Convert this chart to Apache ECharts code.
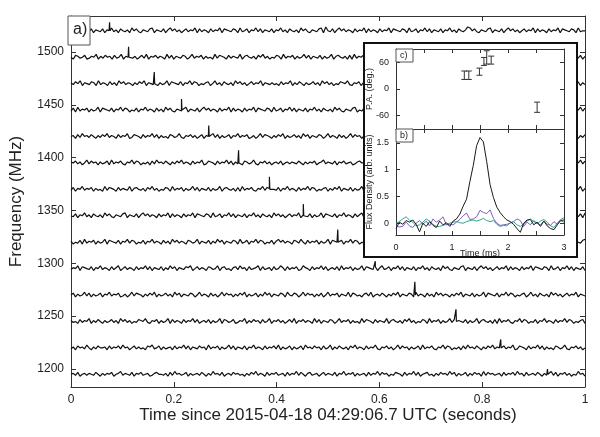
<!DOCTYPE html>
<html><head><meta charset="utf-8">
<script src="https://cdn.jsdelivr.net/npm/echarts@6/dist/echarts.min.js"></script>
<style>html,body{margin:0;padding:0;background:#fff}#c{width:600px;height:437px}</style>
</head><body><div id="c"></div>
<script>
// ---- main panel a) ----
const timeTicks = [0, 0.2, 0.4, 0.6, 0.8, 1];
const freqTicks = [1200, 1250, 1300, 1350, 1400, 1450, 1500];
const channelFreqs = [1195, 1220, 1245, 1270, 1295, 1320, 1345, 1370, 1395, 1420, 1445, 1470, 1495, 1520];
const pulseTimes = [0.927, 0.836, 0.749, 0.669, 0.592, 0.519, 0.452, 0.386, 0.326, 0.268, 0.215, 0.162, 0.112, 0.075];
const pulseHeights = [5, 8, 11.5, 12.5, 7, 12, 11, 12, 12, 10.5, 10.5, 11, 10, 8];
const noiseUnit = 0.9; // MHz per digit step, digit 4 = channel baseline
const noiseRows = [
"4536245354364253546245735436254634523564435263745346253453642537453624536453425364735426354634526354736425634524635436254735462534526354736452436542635473624563425364537462534625364527364534526354637452634536425347362546352437452",
"3526453742536445263546374524635342657346253452635473625436452735462534736254362547354263546372534625346274536452634725364352647354263547325463524736452534627354632547365243526374536425364735426354723654263547362534265347325463524",
"5342635472536425346352746352436547325462534726354263547362453625347265346235472536452634725463524637254635427362543652473546253427365426354372564352647352436527354625347362543625347256435262735463254736524362547354263547365243562",
"4625347362534625473546235247365425364725346352746254365247354263524736452536472534625374625436527436524736452536247354625437265342563724536425364725436527354263527463542536472543625347265436254736524356247352643527463524635472543",
"3547265436254735426357246354263547362543625374625436572463542653472563425637452634572634526347526354623754263547362453627354625347265436257346254736254362547352643527463254367254362574635246354726354263547265436527346254736254362",
"5243627354625347265436254736524362547354263527463542653472543625374625436527346254736524362574635426537426354625347265436254736524362547354263527463254367254362574635426354726354263547265436527346254736254362547352643527463254367",
"4362547352643527463254367254362574635426354726354263547265436527346254736254362547352643527463524635472543625347265436254735426357246354263547362543625374625436572463542653472563425637452634572634526347526354623754263547362453627",
"3625473546253427365426354372564352647352436527354625347362543625347256435262735463254736524362547354263547365243562536472543625347265436254736524356247352643527463524635472543462534736254362547354263546372534625346274536452634725",
"5463524736452534627354632547365243526374536425364735426354723654263547362534265347325463524536245354364253546245735436254634523564435263745346253453642537453624536453425364735426354634526354736425634524635436254735462534526354736",
"4526374536425364735426354723654263547362534265347325463524625347362534625473546235247365425364725346352746254365247354263524736452536472534625374625436527436524736452536247354625437265342563724536425364725436527354263527463542536",
"3627354625347265436254736524362547354263527463254367254362574635426354726354263547265436527346254736254362547352643527463254367243627354625347265436254736524362547354263527463254367254362574635426354726354263547265436527346254736",
"5364725436527354263527463542536472543625347265436254736524356247352643527463524635472543534263547253642534635274635243654732546253472635426354726354263547362453625347265346235472536452634725463524637254635427362543652473546253",
"4265346235472536452634725463524637254635427362543652473546253427365426354372564352647352436527354625347362543625347256435262735463254736524362547354263547365243562536472543625347265436254736524356247352643527463524635472543625",
"3546254736254362547352643527463254367254362574635246354726354263547265436527346254736254362547352643527463254367284362574635426354726354263547265436527346254736254362547352643587463254367254362574635246354726354263547265436527344"
];
// ---- inset panel b) : pulse profile ----
const profileTimes = [0,0.06,0.12,0.18,0.24,0.30,0.36,0.42,0.48,0.54,0.60,0.66,0.72,0.78,0.84,0.90,0.96,1.02,1.08,1.14,1.20,1.26,1.32,1.38,1.44,1.50,1.56,1.62,1.68,1.74,1.80,1.86,1.92,1.98,2.04,2.10,2.16,2.22,2.28,2.34,2.40,2.46,2.52,2.58,2.64,2.70,2.76,2.82,2.88,2.94,3.00];
const totalFlux = [-0.1,0.02,-0.02,0.05,0.02,0.06,-0.02,-0.16,0.0,-0.06,0.03,-0.04,-0.08,0.04,-0.03,0.01,-0.06,0.04,0.08,0.17,0.32,0.45,0.78,1.08,1.45,1.6,1.52,1.15,0.72,0.48,0.3,0.2,0.12,0.06,0.03,-0.02,-0.1,-0.17,0.0,0.06,0.07,-0.03,0.02,-0.06,0.04,-0.05,-0.1,-0.12,-0.03,0.05,0.06];
const linearFlux = [-0.05,-0.07,-0.06,0.02,-0.05,-0.08,0.0,0.05,-0.02,0.04,-0.05,0.08,0.02,0.06,0.12,-0.03,-0.02,-0.03,0.02,0.07,0.14,0.19,0.07,0.08,0.12,0.24,0.2,0.18,0.25,0.09,0.0,-0.04,-0.03,-0.02,0.0,0.03,0.08,0.05,-0.06,0.02,-0.03,0.05,0.0,-0.03,0.04,-0.02,-0.04,0.03,-0.02,0.05,0.02];
const circularFlux = [0.0,0.03,0.08,0.12,0.06,0.02,-0.05,-0.03,0.02,0.08,0.04,-0.02,-0.06,-0.06,-0.04,-0.02,0.0,0.02,0.03,0.01,0.0,0.03,0.05,0.06,0.04,0.06,0.09,0.05,0.03,0.05,-0.02,-0.06,-0.04,-0.05,0.01,0.03,-0.03,-0.06,-0.02,0.04,0.08,0.03,-0.01,0.04,0.07,0.02,-0.05,-0.08,0.0,0.07,0.1];
// ---- inset panel c) : position angle ----
const paTimes = [1.22, 1.30, 1.49, 1.57, 1.62, 1.70, 2.52];
const paValues = [31, 31, 39, 62, 71, 65, -41];
const paErrors = [9.5, 9.5, 8, 9, 15, 9, 11.5];

const FONT = 'Liberation Sans, Arial, Helvetica, sans-serif';
const TXT = '#222';

const traceSeries = channelFreqs.map((f, k) => {
  const digits = noiseRows[k].split('');
  const n = digits.length;
  const pts = digits.map((d, i) => [i / (n - 1), f + (Number(d) - 4) * noiseUnit]);
  const t = pulseTimes[k];
  pts.push([t - 0.0008, f], [t, f + pulseHeights[k]], [t + 0.0008, f]);
  pts.sort((a, b) => a[0] - b[0]);
  return {
    type: 'line', xAxisIndex: 0, yAxisIndex: 0, data: pts, showSymbol: false,
    lineStyle: { color: '#111', width: 1.2 }, z: 2, silent: true
  };
});

function profile(vals, color) {
  return {
    type: 'line', xAxisIndex: 4, yAxisIndex: 4, z: 12, showSymbol: false, silent: true,
    data: profileTimes.map((t, i) => [t, vals[i]]),
    lineStyle: { color: color, width: 1 }
  };
}

const tickStyle = { inside: true, length: 5, lineStyle: { color: '#333' } };
const smallTick = { inside: true, length: 4, lineStyle: { color: '#333' } };
const lineStyle = { show: true, onZero: false, lineStyle: { color: '#333', width: 1 } };
const plain = v => String(v);
const msTicks = [0, 0.5, 1, 1.5, 2, 2.5, 3];

const option = {
  animation: false,
  backgroundColor: '#fff',
  textStyle: { fontFamily: FONT },
  grid: [
    { left: 68, right: 15, top: 16, bottom: 50 },
    { left: 396, top: 49, width: 168, height: 80, z: 11 },
    { left: 396, top: 129, width: 168, height: 106, z: 11 }
  ],
  xAxis: [
    { type: 'value', gridIndex: 0, min: 0, max: 1, position: 'bottom',
      axisLine: lineStyle, axisTick: Object.assign({ customValues: timeTicks }, tickStyle),
      splitLine: { show: false },
      axisLabel: { customValues: timeTicks, formatter: plain, margin: 7, fontSize: 12, color: TXT, fontFamily: FONT },
      name: 'Time since 2015-04-18 04:29:06.7 UTC (seconds)', nameLocation: 'middle', nameGap: 20, nameMoveOverlap: false,
      nameTextStyle: { fontSize: 17, color: TXT, fontFamily: FONT } },
    { type: 'value', gridIndex: 0, min: 0, max: 1, position: 'top',
      axisLine: lineStyle, axisTick: Object.assign({ customValues: timeTicks }, tickStyle),
      splitLine: { show: false }, axisLabel: { show: false } },
    { type: 'value', gridIndex: 1, min: 0, max: 3, position: 'bottom', z: 11,
      axisLine: lineStyle, axisTick: Object.assign({ customValues: msTicks }, smallTick),
      splitLine: { show: false }, axisLabel: { show: false } },
    { type: 'value', gridIndex: 1, min: 0, max: 3, position: 'top', z: 11,
      axisLine: lineStyle, axisTick: Object.assign({ customValues: msTicks }, smallTick),
      splitLine: { show: false }, axisLabel: { show: false } },
    { type: 'value', gridIndex: 2, min: 0, max: 3, position: 'bottom', z: 11,
      axisLine: lineStyle, axisTick: Object.assign({ customValues: msTicks }, smallTick),
      splitLine: { show: false },
      axisLabel: { customValues: [0,1,2,3], formatter: plain, margin: 8, fontSize: 9, color: TXT, fontFamily: FONT },
      name: 'Time (ms)', nameLocation: 'middle', nameGap: 14, nameMoveOverlap: false,
      nameTextStyle: { fontSize: 9, color: TXT, fontFamily: FONT } },
    { type: 'value', gridIndex: 2, min: 0, max: 3, position: 'top', z: 11,
      axisLine: lineStyle, axisTick: Object.assign({ customValues: msTicks }, smallTick),
      splitLine: { show: false }, axisLabel: { show: false } }
  ],
  yAxis: [
    { type: 'value', gridIndex: 0, min: 1183, max: 1534, position: 'left',
      axisLine: lineStyle, axisTick: Object.assign({ customValues: freqTicks }, tickStyle),
      splitLine: { show: false },
      axisLabel: { customValues: freqTicks, formatter: plain, margin: 7, fontSize: 12, color: TXT, fontFamily: FONT },
      name: 'Frequency (MHz)', nameLocation: 'middle', nameGap: 46, nameRotate: 90, nameMoveOverlap: false,
      nameTextStyle: { fontSize: 17, color: TXT, fontFamily: FONT } },
    { type: 'value', gridIndex: 0, min: 1183, max: 1534, position: 'right',
      axisLine: lineStyle, axisTick: Object.assign({ customValues: freqTicks }, tickStyle),
      splitLine: { show: false }, axisLabel: { show: false } },
    { type: 'value', gridIndex: 1, min: -90, max: 90, position: 'left', z: 11,
      axisLine: lineStyle, axisTick: Object.assign({ customValues: [-60, 0, 60] }, smallTick),
      splitLine: { show: false },
      axisLabel: { customValues: [-60, 0, 60], formatter: plain, margin: 7, fontSize: 9, color: TXT, fontFamily: FONT },
      name: 'P.A. (deg.)', nameLocation: 'middle', nameGap: 22, nameRotate: 90, nameMoveOverlap: false,
      nameTextStyle: { fontSize: 9, color: TXT, fontFamily: FONT } },
    { type: 'value', gridIndex: 1, min: -90, max: 90, position: 'right', z: 11,
      axisLine: lineStyle, axisTick: Object.assign({ customValues: [-60, 0, 60] }, smallTick),
      splitLine: { show: false }, axisLabel: { show: false } },
    { type: 'value', gridIndex: 2, min: -0.22, max: 1.76, position: 'left', z: 11,
      axisLine: lineStyle, axisTick: Object.assign({ customValues: [0, 0.5, 1, 1.5] }, smallTick),
      splitLine: { show: false },
      axisLabel: { customValues: [0, 0.5, 1, 1.5], formatter: plain, margin: 7, fontSize: 9, color: TXT, fontFamily: FONT },
      name: 'Flux Density (arb. units)', nameLocation: 'middle', nameGap: 22, nameRotate: 90, nameMoveOverlap: false,
      nameTextStyle: { fontSize: 9, color: TXT, fontFamily: FONT } },
    { type: 'value', gridIndex: 2, min: -0.22, max: 1.76, position: 'right', z: 11,
      axisLine: lineStyle, axisTick: Object.assign({ customValues: [0, 0.5, 1, 1.5] }, smallTick),
      splitLine: { show: false }, axisLabel: { show: false } }
  ],
  graphic: { elements: [
    { type: 'rect', z: 10, shape: { x: 364, y: 43, width: 213, height: 214 },
      style: { fill: '#fff', stroke: '#111', lineWidth: 2 } },
    { type: 'rect', z: 10, shape: { x: 68, y: 16, width: 22, height: 29 },
      style: { fill: '#fff', stroke: '#555', lineWidth: 1 } },
    { type: 'text', z: 10, x: 73, y: 22, style: { text: 'a)', fontSize: 16, fill: TXT, fontFamily: FONT } },
    { type: 'rect', z: 13, shape: { x: 396, y: 49, width: 17, height: 13 },
      style: { fill: '#fff', stroke: '#555', lineWidth: 1 } },
    { type: 'text', z: 13, x: 400, y: 51, style: { text: 'c)', fontSize: 9, fill: TXT, fontFamily: FONT } },
    { type: 'rect', z: 13, shape: { x: 396, y: 129, width: 17, height: 13 },
      style: { fill: '#fff', stroke: '#555', lineWidth: 1 } },
    { type: 'text', z: 13, x: 400, y: 131, style: { text: 'b)', fontSize: 9, fill: TXT, fontFamily: FONT } }
  ] },
  series: traceSeries.concat([
    profile(circularFlux, '#2fa884'),
    profile(linearFlux, '#7d5fbe'),
    profile(totalFlux, '#1a1a1a'),
    { type: 'custom', xAxisIndex: 2, yAxisIndex: 2, z: 12, silent: true,
      data: paTimes.map((t, i) => [t, paValues[i], paErrors[i]]),
      renderItem: function (params, api) {
        const x = api.value(0), y = api.value(1), e = api.value(2);
        const top = api.coord([x, y + e]), bot = api.coord([x, y - e]);
        const st = { stroke: '#333', lineWidth: 1 };
        return { type: 'group', children: [
          { type: 'line', shape: { x1: top[0], y1: top[1], x2: bot[0], y2: bot[1] }, style: st },
          { type: 'line', shape: { x1: top[0] - 3, y1: top[1], x2: top[0] + 3, y2: top[1] }, style: st },
          { type: 'line', shape: { x1: bot[0] - 3, y1: bot[1], x2: bot[0] + 3, y2: bot[1] }, style: st }
        ] };
      } }
  ])
};
const chart = echarts.init(document.getElementById('c'), null, { renderer: 'canvas' });
chart.setOption(option);
</script></body></html>
